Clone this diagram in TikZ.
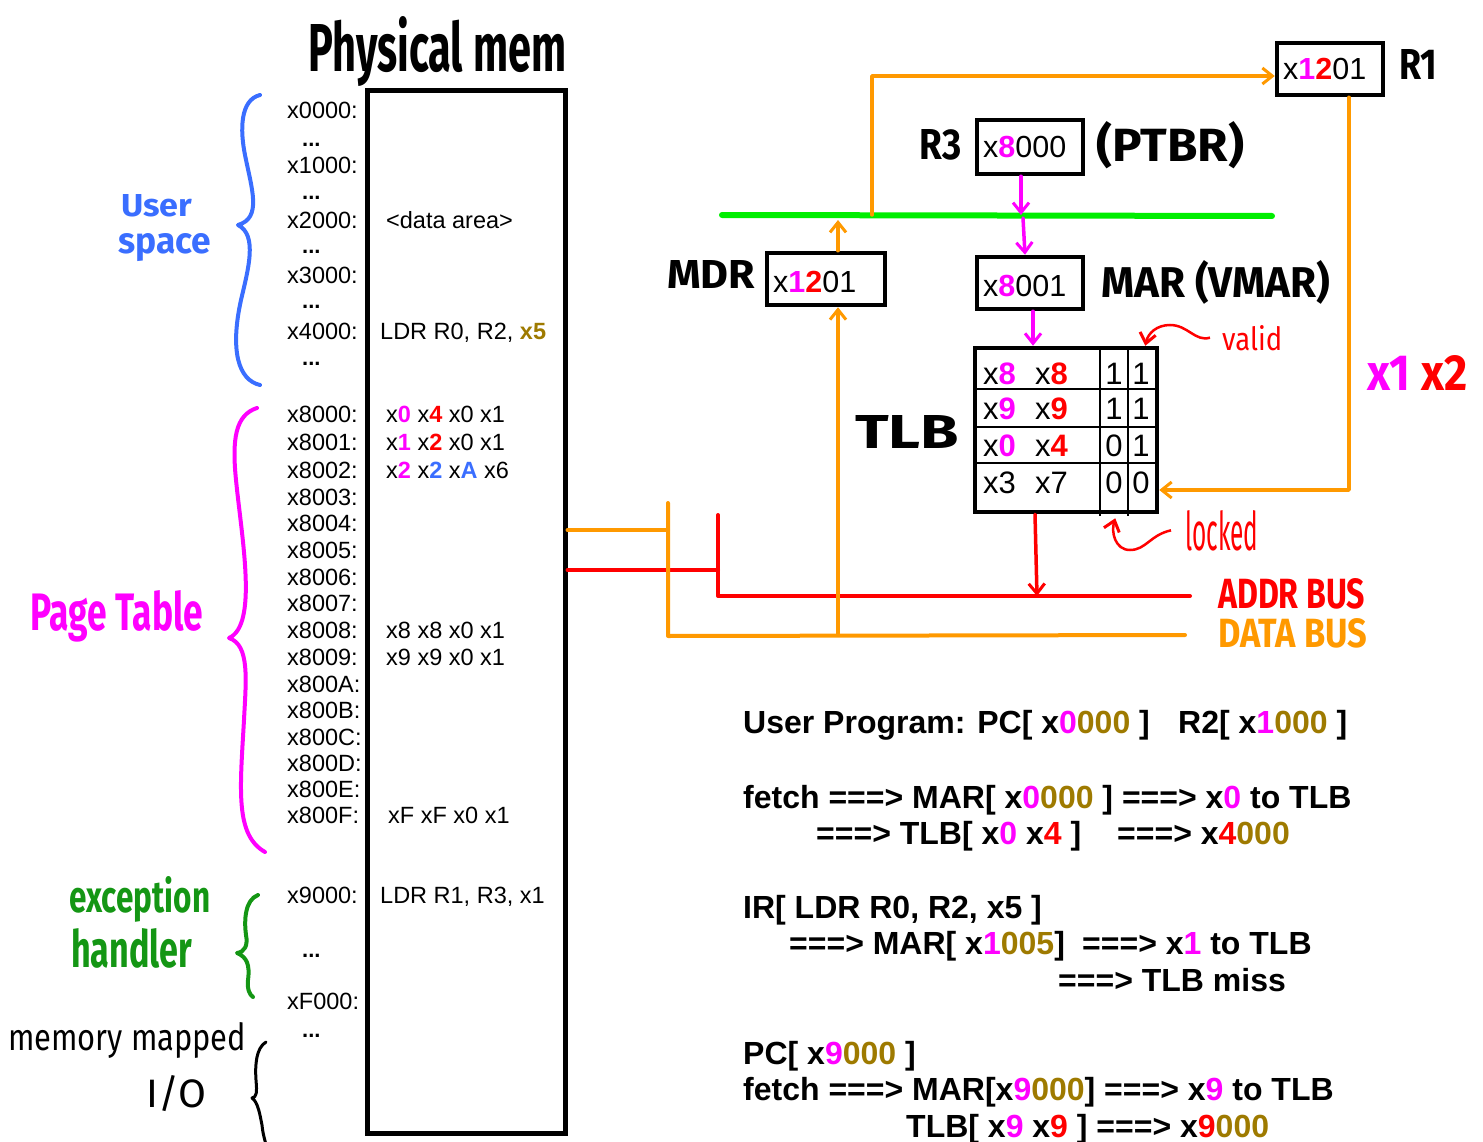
\documentclass[tikz,border=0pt]{standalone}
\usepackage{fontspec}
\setmainfont{Liberation Sans}
\newfontfamily\hand{Fira Sans}
\usetikzlibrary{arrows.meta,calc}

\definecolor{mg}{RGB}{255,0,255}
\definecolor{rd}{RGB}{255,0,0}
\definecolor{ol}{RGB}{158,122,0}
\definecolor{bl}{RGB}{58,110,255}
\definecolor{gn}{RGB}{20,150,20}
\definecolor{busgreen}{RGB}{0,238,0}
\definecolor{orng}{RGB}{255,153,0}

\newcommand{\Mg}[1]{{\bfseries\color{mg}#1}}
\newcommand{\Rd}[1]{{\bfseries\color{rd}#1}}
\newcommand{\Ol}[1]{{\bfseries\color{ol}#1}}
\newcommand{\Bl}[1]{{\bfseries\color{bl}#1}}
% hand-lettered labels: width, height above baseline, text
\newcommand{\handbold}[3]{\resizebox{#1pt}{#2pt}{\hand\bfseries #3}}
\newcommand{\handthin}[3]{\resizebox{#1pt}{#2pt}{\hand #3}}

\tikzset{
  addr/.style={anchor=base west, inner sep=0, font=\fontsize{23.5}{27}\selectfont},
  dots/.style={anchor=base west, inner sep=0, font=\fontsize{22}{26}\selectfont\bfseries},
  regbox/.style={draw, line width=4.5pt, inner sep=0},
  regtxt/.style={anchor=base west, inner sep=0, font=\fontsize{30.5}{34}\selectfont},
  tlbtxt/.style={anchor=base west, inner sep=0, font=\fontsize{31}{35}\selectfont},
  bit/.style={anchor=base, inner sep=0, font=\fontsize{31}{35}\selectfont},
  lettering/.style={anchor=base west, inner sep=0},
  prog/.style={anchor=base west, inner sep=0, font=\fontsize{32}{36}\selectfont\bfseries},
  brace/.style={line width=4pt, line cap=round, line join=round},
  tipped/.style={-{Straight Barb[length=10pt,width=16pt,line width=3pt]}},
  wire/.style={line width=4pt, line cap=round, line join=round},
  thinwire/.style={line width=3.5pt, line cap=round, line join=round},
}

\begin{document}
\begin{tikzpicture}[x=1pt,y=-1pt]
\useasboundingbox (0,0) rectangle (1483,1142);

% ---------------- physical memory ----------------
\node[lettering] (title) at (308,72) {\handbold{258}{55}{Physical mem}};
\node[draw, line width=5pt, minimum width=198pt, minimum height=1042pt, inner sep=0] (mem) at (466,612) {};

\foreach \t/\y [count=\i] in {x0000:/111, x1000:/166, x2000:/221, x3000:/275, x4000:/331,
  x8000:/414, x8001:/442, x8002:/470, x8003:/497, x8004:/523, x8005:/550, x8006:/577,
  x8007:/603, x8008:/630, x8009:/657, x800A:/684, x800B:/710, x800C:/737, x800D:/763,
  x800E:/789, x800F:/815, x9000:/895, xF000:/1001}
  \node[addr] (ad\i) at (287,\y+8) {\t};

\foreach \y [count=\i] in {147,200,254,308,365,957,1037}
  \node[dots] (dt\i) at (302,\y) {...};

\node[addr] (c1) at (386,229) {<data area>};
\node[addr] (c2) at (380,339) {LDR R0, R2, \Ol{x5}};
\node[addr] (c3) at (386,422) {x\Mg{0} x\Rd{4} x0 x1};
\node[addr] (c4) at (386,450) {x\Mg{1} x\Rd{2} x0 x1};
\node[addr] (c5) at (386,478) {x\Mg{2} x\Bl{2} x\Bl{A} x6};
\node[addr] (c6) at (386,638) {x8 x8 x0 x1};
\node[addr] (c7) at (386,665) {x9 x9 x0 x1};
\node[addr] (c8) at (388,823) {xF xF x0 x1};
\node[addr] (c9) at (380,903) {LDR R1, R3, x1};

% ---------------- region braces ----------------
\draw[brace, bl] (260,95) .. controls (240,100) and (240,130) .. (245,155)
  .. controls (252,190) and (262,218) .. (238,225)
  .. controls (258,235) and (248,270) .. (241,300)
  .. controls (230,350) and (238,380) .. (260,385);
\node[lettering, bl] (us1) at (121,217) {\handbold{71}{22}{User}};
\node[lettering, bl] (us2) at (118,253) {\handbold{93}{20}{space}};

\draw[brace, mg] (257,408) .. controls (235,415) and (232,440) .. (236,480)
  .. controls (242,540) and (258,625) .. (229,638)
  .. controls (250,645) and (246,680) .. (244,720)
  .. controls (240,790) and (235,835) .. (265,852);
\node[lettering, mg] (pt) at (30,630) {\handbold{173}{40}{Page Table}};

\draw[brace, gn] (258,895) .. controls (245,900) and (244,920) .. (246,935)
  .. controls (248,945) and (245,952) .. (237,953)
  .. controls (247,957) and (250,965) .. (248,980)
  .. controls (247,990) and (250,995) .. (253,997);
\node[lettering, gn] (ex1) at (69,912) {\handbold{141}{36}{exception}};
\node[lettering, gn] (ex2) at (71,967) {\handbold{121}{39}{handler}};

\draw[brace, black, line width=3pt] (266,1042) .. controls (256,1048) and (255,1065) .. (256,1080)
  .. controls (257,1092) and (257,1097) .. (252,1098)
  .. controls (258,1102) and (260,1115) .. (262,1125)
  .. controls (263,1135) and (265,1140) .. (266,1145);
\node[lettering] (io1) at (8,1050) {\handthin{238}{28}{memory mapped}};
\node[lettering] (io2) at (146,1107) {\handthin{60}{32}{I/O}};

% ---------------- registers ----------------
\node[regbox, minimum width=106pt, minimum height=52pt] (r1) at (1330,69) {};
\node[regtxt] (r1v) at (1283,80) {x\Mg{1}\Rd{2}01};
\node[lettering] (r1l) at (1399,80) {\handbold{38}{30}{R1}};

\node[regbox, minimum width=106pt, minimum height=54pt] (r3) at (1030,147) {};
\node[regtxt] (r3v) at (983,158) {x\Mg{8}000};
\node[lettering] (r3l) at (919,160) {\handbold{42}{30}{R3}};
\node[lettering] (r3n) at (1096,162) {\handbold{148}{40}{(PTBR)}};

\node[regbox, minimum width=118pt, minimum height=52pt] (mdr) at (826,279) {};
\node[regtxt] (mdrv) at (773,292) {x\Mg{1}\Rd{2}01};
\node[lettering] (mdrl) at (667,288) {\handbold{88}{28}{MDR}};

\node[regbox, minimum width=106pt, minimum height=52pt] (mar) at (1030,283) {};
\node[regtxt] (marv) at (983,296) {x\Mg{8}001};
\node[lettering] (marl) at (1101,297) {\handbold{229}{37}{MAR (VMAR)}};

% ---------------- TLB ----------------
\node[draw, line width=4.5pt, minimum width=182pt, minimum height=164pt, inner sep=0] (tlb) at (1066,430) {};
\draw[line width=2.5pt] (975,389) -- (1157,389);
\draw[line width=2.5pt] (975,427) -- (1157,427);
\draw[line width=2.5pt] (975,463) -- (1157,463);
\draw[line width=2pt] (1100,348) -- (1100,516);
\draw[line width=2pt] (1128,348) -- (1128,516);

\node[tlbtxt] (t11) at (983,384) {x\Mg{8}};
\node[tlbtxt] (t12) at (1035,384) {x\Rd{8}};
\node[bit] (t13) at (1114,384) {1};
\node[bit] (t14) at (1141,384) {1};
\node[tlbtxt] (t21) at (983,419) {x\Mg{9}};
\node[tlbtxt] (t22) at (1035,419) {x\Rd{9}};
\node[bit] (t23) at (1114,419) {1};
\node[bit] (t24) at (1141,419) {1};
\node[tlbtxt] (t31) at (983,456) {x\Mg{0}};
\node[tlbtxt] (t32) at (1035,456) {x\Rd{4}};
\node[bit] (t33) at (1114,456) {0};
\node[bit] (t34) at (1141,456) {1};
\node[tlbtxt] (t41) at (983,493) {x3};
\node[tlbtxt] (t42) at (1035,493) {x7};
\node[bit] (t43) at (1114,493) {0};
\node[bit] (t44) at (1141,493) {0};

\node[lettering] (tlbl) at (855,448) {\handbold{104}{33}{TLB}};
\node[lettering, rd] (valid) at (1222,350) {\handthin{60}{25}{valid}};
\node[lettering, rd] (locked) at (1185,550) {\handthin{73}{40}{locked}};
\draw[rd, line width=2.5pt, tipped] ($(valid.west)+(-12,0)$)
  .. controls (1195,342) and (1188,325) .. (1170,325)
  .. controls (1157,325) and (1148,333) .. ($(tlb.north east)+(-14,0)$);
\draw[rd, line width=2.5pt, tipped] ($(locked.west)+(-14,0)$)
  .. controls (1150,535) and (1146,550) .. (1130,550)
  .. controls (1115,550) and (1111,532) .. ($(tlb.south east)+(-44,4)$);

% ---------------- buses ----------------
\coordinate (gbL) at (722,215);
\coordinate (gbR) at (1272,216);
\coordinate (abT) at (718,515);
\coordinate (abC) at (718,596);
\coordinate (abR) at (1190,596);
\coordinate (dbT) at (668,503);
\coordinate (dbC) at (668,636);
\coordinate (dbR) at (1185,635);
\coordinate (up) at (872,76);
\coordinate (dn) at (1349,490);

\draw[busgreen, line width=6pt, line cap=round] (gbL) -- (gbR);
\draw[rd, wire] (mem.east |- 0,570) -- (abT |- 0,570);
\draw[rd, wire] (abT) -- (abC) -- (abR);
\draw[orng, wire] (mem.east |- 0,530) -- (dbT |- 0,530);
\draw[orng, wire] (dbT) -- (dbC) -- (dbR);
\node[lettering, rd] (addrl) at (1218,608) {\handbold{147}{30}{ADDR BUS}};
\node[lettering, orng] (datal) at (1218,647) {\handbold{149}{29}{DATA BUS}};

% ---------------- transfers ----------------
\draw[mg, thinwire, tipped] (r3.south -| 1021,0) -- (1021,0 |- gbL);
\draw[mg, thinwire, tipped] (1023,218) -- (mar.north -| 1025,0);
\draw[mg, thinwire, tipped] (mar.south -| 1033,0) -- (tlb.north -| 1033,0);
\draw[rd, thinwire, tipped] (tlb.south -| 1035,0) -- (1037,0 |- abC);
\draw[orng, thinwire, tipped] (838,0 |- dbR) -- (mdr.south -| 838,0);
\draw[orng, thinwire, tipped] (mdr.north -| 838,0) -- (838,220);
\draw[orng, thinwire, tipped] (872,0 |- gbL) -- (up) -- (r1.west |- up);
\draw[orng, thinwire, tipped] (r1.south -| dn) -- (dn) -- (tlb.east |- dn);
\node[lettering] (x1x2) at (1367,390) {\handbold{100}{35}{\textcolor{mg}{x1} \textcolor{rd}{x2}}};

% ---------------- program trace ----------------
\node[prog] (p1) at (743,733) {User Program: PC[ x\Mg{0}\Ol{000} ]};
\node[prog] (p1b) at (1178,733) {R2[ x\Mg{1}\Ol{000} ]};
\node[prog] (p2) at (743,808) {fetch ===> MAR[ x\Mg{0}\Ol{000} ] ===> x\Mg{0} to TLB};
\node[prog] (p3) at (816,844) {===> TLB[ x\Mg{0} x\Rd{4} ]};
\node[prog] (p3b) at (1117,844) {===> x\Rd{4}\Ol{000}};
\node[prog] (p4) at (743,918) {IR[ LDR R0, R2, x5 ]};
\node[prog] (p5) at (789,954) {===> MAR[ x\Mg{1}\Ol{005}]};
\node[prog] (p5b) at (1082,954) {===> x\Mg{1} to TLB};
\node[prog] (p6) at (1058,991) {===> TLB miss};
\node[prog] (p7) at (743,1064) {PC[ x\Mg{9}\Ol{000} ]};
\node[prog] (p8) at (743,1100) {fetch ===> MAR[x\Mg{9}\Ol{000}] ===> x\Mg{9} to TLB};
\node[prog] (p9) at (906,1137) {TLB[ x\Mg{9} x\Rd{9} ] ===> x\Rd{9}\Ol{000}};
\end{tikzpicture}
\end{document}
